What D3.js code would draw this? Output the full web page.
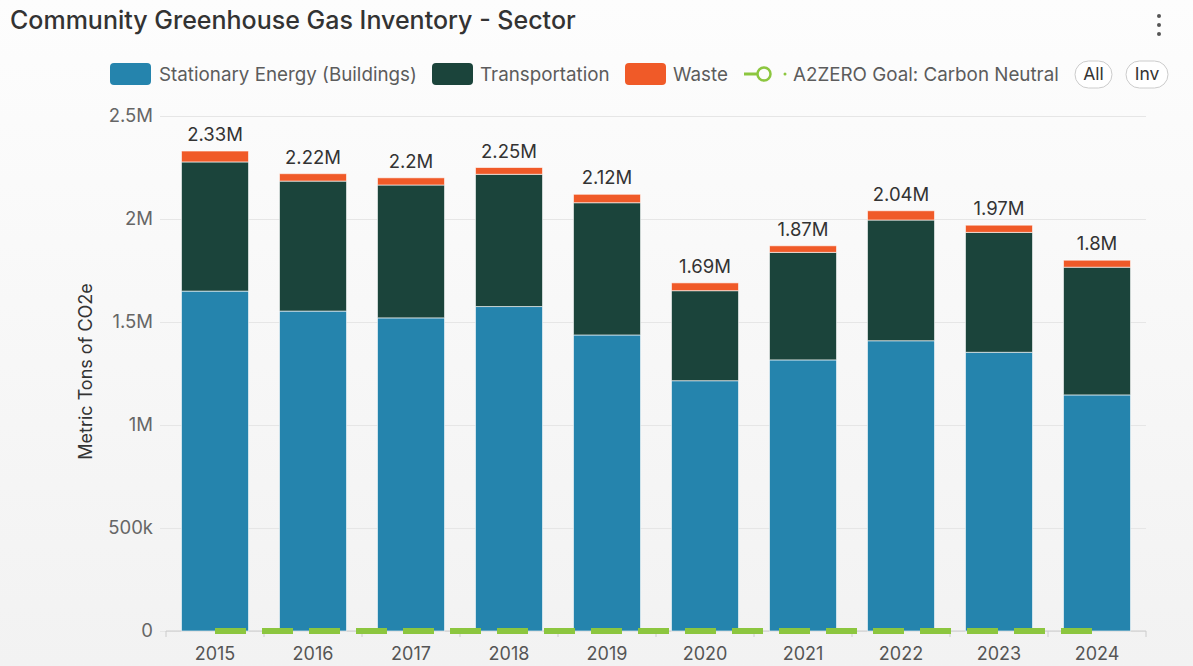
<!DOCTYPE html>
<html>
<head>
<meta charset="utf-8">
<script src="https://cdn.jsdelivr.net/npm/d3@7"></script>
<style>
  body { margin: 0; background: #f6f6f6; }
  svg { display: block; font-family: Inter, Roboto, sans-serif; }
</style>
</head>
<body>
<div id="chart"></div>
<script>
// data (metric tons CO2e)
const years = ['2015','2016','2017','2018','2019','2020','2021','2022','2023','2024']
const stationary = [1650000,1553000,1520000,1575000,1437000,1215000,1316000,1409000,1353000,1146000]
const transportation = [627000,631000,645000,642000,642000,437000,522000,586000,582000,620000]
const waste = [53000,36000,35000,33000,41000,38000,32000,45000,35000,34000]
const goal = [0,0,0,0,0,0,0,0,0,0]
const seriesNames = ['Stationary Energy (Buildings)','Transportation','Waste']
const goalName = 'A2ZERO Goal: Carbon Neutral'
const yTicks = [0,500000,1000000,1500000,2000000,2500000]

const W = 1193, H = 666
const colors = ['#2584ad','#1b443b','#f05a28']
const goalColor = '#8cc63f'

const svg = d3.select('#chart').append('svg')
    .attr('width', W).attr('height', H)

// soft card background
const defs = svg.append('defs')
const grad = defs.append('linearGradient').attr('id','bg').attr('x1',0).attr('y1',0).attr('x2',0).attr('y2',1)
grad.append('stop').attr('offset','0%').attr('stop-color','#fdfdfd')
grad.append('stop').attr('offset','100%').attr('stop-color','#f2f2f2')
svg.append('rect').attr('width',W).attr('height',H).attr('fill','url(#bg)')

// title + menu
svg.append('text')
    .attr('x',10).attr('y',29)
    .attr('font-size',25).attr('font-weight',500).attr('fill','#333')
    .text('Community Greenhouse Gas Inventory - Sector')
svg.selectAll('.dot').data([16,25,34]).enter().append('circle')
    .attr('cx',1159).attr('cy',d=>d).attr('r',2).attr('fill','#555')

//////////////////////////////////////////////////////
// scales
//////////////////////////////////////////////////////
const plot = {left:166, right:1146, top:116, bottom:631}

const x = d3.scaleBand()
    .domain(years)
    .range([plot.left, plot.right])
    .paddingInner(0.316)
    .paddingOuter(0.158)

const y = d3.scaleLinear()
    .domain([0,2500000])
    .range([plot.bottom, plot.top])

const fmtTick = v => v >= 1e6 ? (v/1e6)+'M' : v >= 1e3 ? (v/1e3)+'k' : '0'

// gridlines + y labels
const yAxis = d3.axisLeft(y).tickValues(yTicks).tickFormat(fmtTick)
    .tickSize(-(plot.right - plot.left + 6)).tickPadding(7)
svg.append('g')
    .attr('transform',`translate(${plot.left - 6},0)`)
    .call(yAxis)
    .call(g => g.select('.domain').remove())
    .call(g => g.selectAll('.tick line').attr('stroke','#e6e6e6'))
    .call(g => g.selectAll('.tick text').attr('fill','#666').attr('font-size',18.5).attr('font-family','Inter, Roboto, sans-serif'))

svg.append('text')
    .attr('transform',`translate(92,${(plot.top+plot.bottom)/2 - 2}) rotate(-90)`)
    .attr('text-anchor','middle').attr('font-size',18).attr('fill','#333')
    .text('Metric Tons of CO2e')

// x axis line, boundary ticks, year labels
svg.append('line')
    .attr('x1',plot.left).attr('x2',plot.right)
    .attr('y1',plot.bottom).attr('y2',plot.bottom)
    .attr('stroke','#ccc')
const bounds = d3.range(years.length + 1).map(i => plot.left + i * x.step())
svg.selectAll('.xtick').data(bounds).enter().append('line')
    .attr('x1',d=>d).attr('x2',d=>d)
    .attr('y1',plot.bottom).attr('y2',plot.bottom + 6)
    .attr('stroke','#ccc')
svg.selectAll('.xlab').data(years).enter().append('text')
    .attr('x',d=>x(d) + x.bandwidth()/2).attr('y',660)
    .attr('text-anchor','middle').attr('font-size',18).attr('fill','#555')
    .text(d=>d)

//////////////////////////////////////////////////////
// stacked bars
//////////////////////////////////////////////////////
const rows = years.map((yr,i) => ({year:yr, s0:stationary[i], s1:transportation[i], s2:waste[i]}))
const stack = d3.stack().keys(['s0','s1','s2'])(rows)

svg.append('g').selectAll('g').data(stack).enter().append('g')
    .attr('fill',(d,i)=>colors[i])
    .selectAll('rect').data(d=>d).enter().append('rect')
    .attr('x',d=>x(d.data.year))
    .attr('width',x.bandwidth())
    .attr('y',d=>y(d[1]))
    .attr('height',d=>y(d[0]) - y(d[1]))
    .attr('stroke','rgba(255,255,255,0.6)').attr('stroke-width',1)

// totals above bars
const fmtTotal = d3.format('.3~s')
svg.selectAll('.total').data(rows).enter().append('text')
    .attr('x',d=>x(d.year) + x.bandwidth()/2)
    .attr('y',d=>y(d.s0+d.s1+d.s2) - 10)
    .attr('text-anchor','middle').attr('font-size',18.5).attr('fill','#333')
    .text(d=>fmtTotal(d.s0+d.s1+d.s2))

// goal line (dashed, along zero)
const goalLine = d3.line()
    .x((d,i)=>x(years[i]) + x.bandwidth()/2)
    .y(d=>y(d))
svg.append('path')
    .datum(goal)
    .attr('d',goalLine)
    .attr('fill','none').attr('stroke',goalColor)
    .attr('stroke-width',6).attr('stroke-dasharray','31,16')

//////////////////////////////////////////////////////
// legend
//////////////////////////////////////////////////////
const legY = 74
const legItems = [{x:110, tx:159}, {x:432, tx:480}, {x:625, tx:673}]
legItems.forEach((it,i)=>{
    svg.append('rect')
        .attr('x',it.x).attr('y',legY-11).attr('width',41).attr('height',22).attr('rx',4)
        .attr('fill',colors[i])
    svg.append('text')
        .attr('x',it.tx).attr('y',legY+6.5)
        .attr('font-size',18.8).attr('fill','#5c5c5c')
        .text(seriesNames[i])
})
svg.append('line')
    .attr('x1',744).attr('x2',757).attr('y1',legY).attr('y2',legY)
    .attr('stroke',goalColor).attr('stroke-width',3)
svg.append('circle')
    .attr('cx',764).attr('cy',legY).attr('r',6.5)
    .attr('fill','none').attr('stroke',goalColor).attr('stroke-width',2.5)
svg.append('circle')
    .attr('cx',785).attr('cy',legY).attr('r',1.5).attr('fill',goalColor)
svg.append('text')
    .attr('x',793).attr('y',legY+6.5)
    .attr('font-size',18.8).attr('fill','#5c5c5c')
    .text(goalName)

// All / Inv pills
const pills = [{label:'All', x:1075, w:37}, {label:'Inv', x:1126, w:42}]
pills.forEach(p=>{
    svg.append('rect')
        .attr('x',p.x).attr('y',legY-13).attr('width',p.w).attr('height',27).attr('rx',13.5)
        .attr('fill','#fff').attr('stroke','#ccc')
    svg.append('text')
        .attr('x',p.x + p.w/2).attr('y',legY+6)
        .attr('text-anchor','middle').attr('font-size',17.5).attr('fill','#333')
        .text(p.label)
})
</script>
</body>
</html>
